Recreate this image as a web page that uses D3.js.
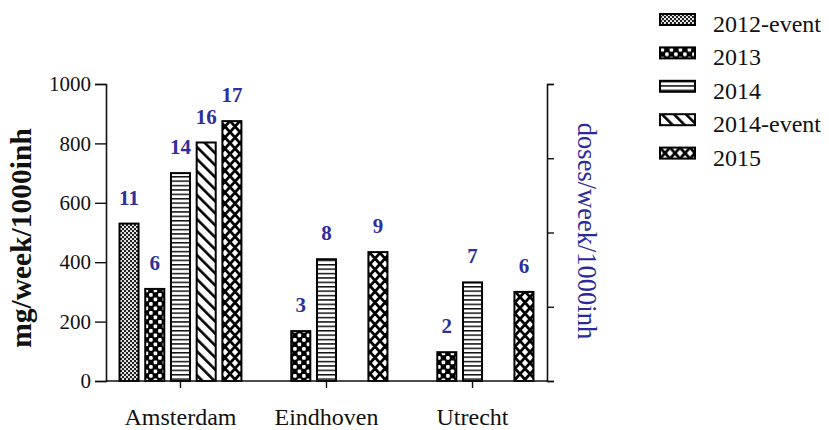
<!DOCTYPE html>
<html>
<head>
<meta charset="utf-8">
<script src="https://cdn.jsdelivr.net/npm/d3@7"></script>
<style>
  html, body { margin: 0; padding: 0; background: #fff; }
  svg { display: block; }
</style>
</head>
<body>
<svg id="chart" width="829" height="430" font-family="Liberation Serif"></svg>
<script>
// Cities on the x axis and the sampling campaigns shown for each one
const cities = ["Amsterdam", "Eindhoven", "Utrecht"];
const series = ["2012-event", "2013", "2014", "2014-event", "2015"];

// Load in mg/week/1000 inhabitants (null = no sample in that campaign)
const mg2012event = [530, null, null];
const mg2013      = [310, 168, 97];
const mg2014      = [700, 410, 332];
const mg2014event = [803, null, null];
const mg2015      = [875, 434, 300];

// Matching doses/week/1000 inhabitants printed over each bar
const doses2012event = [11, null, null];
const doses2013      = [6, 3, 2];
const doses2014      = [14, 8, 7];
const doses2014event = [16, null, null];
const doses2015      = [17, 9, 6];

const leftTicks = [0, 200, 400, 600, 800, 1000];
const rightTicks = [0, 5, 10, 15, 20];

const FONT = "Liberation Serif";
const mgBySeries = [mg2012event, mg2013, mg2014, mg2014event, mg2015];
const dosesBySeries = [doses2012event, doses2013, doses2014, doses2014event, doses2015];

const rows = [];
series.forEach((s, si) => {
  cities.forEach((c, ci) => {
    const v = mgBySeries[si][ci];
    if (v != null) rows.push({ city: c, series: s, value: v, doses: dosesBySeries[si][ci] });
  });
});

const svg = d3.select("#chart");
const plot = { left: 106, right: 547, top: 84, bottom: 381 };

const x0 = d3.scaleBand().domain(cities).range([plot.left, plot.right])
  .paddingInner(0.13).paddingOuter(0.075);
const x1 = d3.scaleBand().domain(series).range([0, x0.bandwidth()])
  .paddingInner(0.26).paddingOuter(0.1);
const y = d3.scaleLinear().domain([0, 1000]).range([plot.bottom, plot.top]);
const yRight = d3.scaleLinear().domain([0, 20]).range([plot.bottom, plot.top]);

// Monochrome fill patterns, one per campaign
const defs = svg.append("defs");
function pattern(id, w, h, transform) {
  const p = defs.append("pattern").attr("id", id)
    .attr("patternUnits", "userSpaceOnUse").attr("width", w).attr("height", h);
  if (transform) p.attr("patternTransform", transform);
  return p;
}
// fine dotted
let p = pattern("pat-0", 4, 4);
p.append("rect").attr("width", 4).attr("height", 4).attr("fill", "#222");
p.append("circle").attr("cx", 1).attr("cy", 1).attr("r", 1.05).attr("fill", "#fff");
p.append("circle").attr("cx", 3).attr("cy", 3).attr("r", 1.05).attr("fill", "#fff");
// checkerboard
p = pattern("pat-1", 9, 9);
p.append("rect").attr("width", 9).attr("height", 9).attr("fill", "#000");
p.append("rect").attr("x", 0.6).attr("y", 0.6).attr("width", 3.6).attr("height", 3.6).attr("rx", 1).attr("fill", "#fff");
p.append("rect").attr("x", 5.1).attr("y", 5.1).attr("width", 3.6).attr("height", 3.6).attr("rx", 1).attr("fill", "#fff");
// horizontal lines
p = pattern("pat-2", 8, 4.4);
p.append("rect").attr("width", 8).attr("height", 4.4).attr("fill", "#fff");
p.append("rect").attr("y", 0).attr("width", 8).attr("height", 1.5).attr("fill", "#111");
// diagonal lines
p = pattern("pat-3", 8.5, 8.5, "rotate(-45)");
p.append("rect").attr("width", 8.5).attr("height", 8.5).attr("fill", "#fff");
p.append("rect").attr("x", 0).attr("width", 2.6).attr("height", 8.5).attr("fill", "#000");
// crosshatch
p = pattern("pat-4", 10, 11);
p.append("rect").attr("width", 10).attr("height", 11).attr("fill", "#fff");
p.append("path").attr("d", "M0,0L10,11M10,0L0,11").attr("stroke", "#000").attr("stroke-width", 2.8);
p.append("path").attr("d", "M-1,-1L1,1M9,10L11,12M9,-1L11,1M-1,10L1,12").attr("stroke", "#000").attr("stroke-width", 2.8);

const fillFor = s => `url(#pat-${series.indexOf(s)})`;

// Bars
svg.append("g").selectAll("rect").data(rows).join("rect")
  .attr("x", d => x0(d.city) + x1(d.series))
  .attr("y", d => y(d.value))
  .attr("width", x1.bandwidth())
  .attr("height", d => y(0) - y(d.value))
  .attr("fill", d => fillFor(d.series))
  .attr("stroke", "#000").attr("stroke-width", 2);

// Dose labels above bars
svg.append("g").selectAll("text").data(rows).join("text")
  .attr("x", d => x0(d.city) + x1(d.series) + x1.bandwidth() / 2)
  .attr("y", d => y(d.value) - 19)
  .attr("text-anchor", "middle")
  .attr("font-family", FONT)
  .attr("font-size", 21).attr("font-weight", "bold")
  .attr("fill", "#2f2f9c")
  .text(d => d.doses);

// Left axis
const gLeft = svg.append("g").attr("transform", `translate(${plot.left},0)`)
  .call(d3.axisLeft(y).tickValues(leftTicks).tickFormat(d3.format("d")).tickSize(11).tickPadding(4));

// Right axis (unlabelled dose scale)
const gRight = svg.append("g").attr("transform", `translate(${plot.right},0)`)
  .call(d3.axisRight(yRight).tickValues(rightTicks).tickSize(7).tickFormat(""));

// Bottom axis
const gBottom = svg.append("g").attr("transform", `translate(0,${plot.bottom})`)
  .call(d3.axisBottom(x0).tickSize(7).tickPadding(20).tickSizeOuter(0));
gBottom.select(".domain").attr("d", `M${plot.left},0H${plot.right}`);

gLeft.attr("font-family", FONT).attr("font-size", 21);
gBottom.attr("font-family", FONT).attr("font-size", 24);
gLeft.selectAll("text").attr("fill", "#111");
gBottom.selectAll("text").attr("fill", "#111");

[gLeft, gRight, gBottom].forEach(g => {
  g.select(".domain").attr("stroke", "#111").attr("stroke-width", 1.6);
  g.selectAll(".tick line").attr("stroke", "#111").attr("stroke-width", 1.4);
});

// Axis titles
svg.append("text")
  .attr("transform", "translate(31,238) rotate(-90)")
  .attr("text-anchor", "middle")
  .attr("font-family", FONT)
  .attr("font-size", 29.5).attr("font-weight", "bold").attr("fill", "#111")
  .text("mg/week/1000inh");
svg.append("text")
  .attr("transform", "translate(578,231) rotate(90)")
  .attr("text-anchor", "middle")
  .attr("font-family", FONT)
  .attr("font-size", 26.5).attr("fill", "#2a2a9a")
  .text("doses/week/1000inh");

// Legend
const legend = svg.append("g").selectAll("g").data(series).join("g")
  .attr("transform", (d, i) => `translate(660,${14 + i * 33.4})`);
legend.append("rect")
  .attr("width", 35).attr("height", 11)
  .attr("fill", d => fillFor(d))
  .attr("stroke", "#000").attr("stroke-width", 2);
legend.append("text")
  .attr("x", 53).attr("y", 18)
  .attr("font-family", FONT)
  .attr("font-size", 24).attr("fill", "#111")
  .text(d => d);
</script>
</body>
</html>
